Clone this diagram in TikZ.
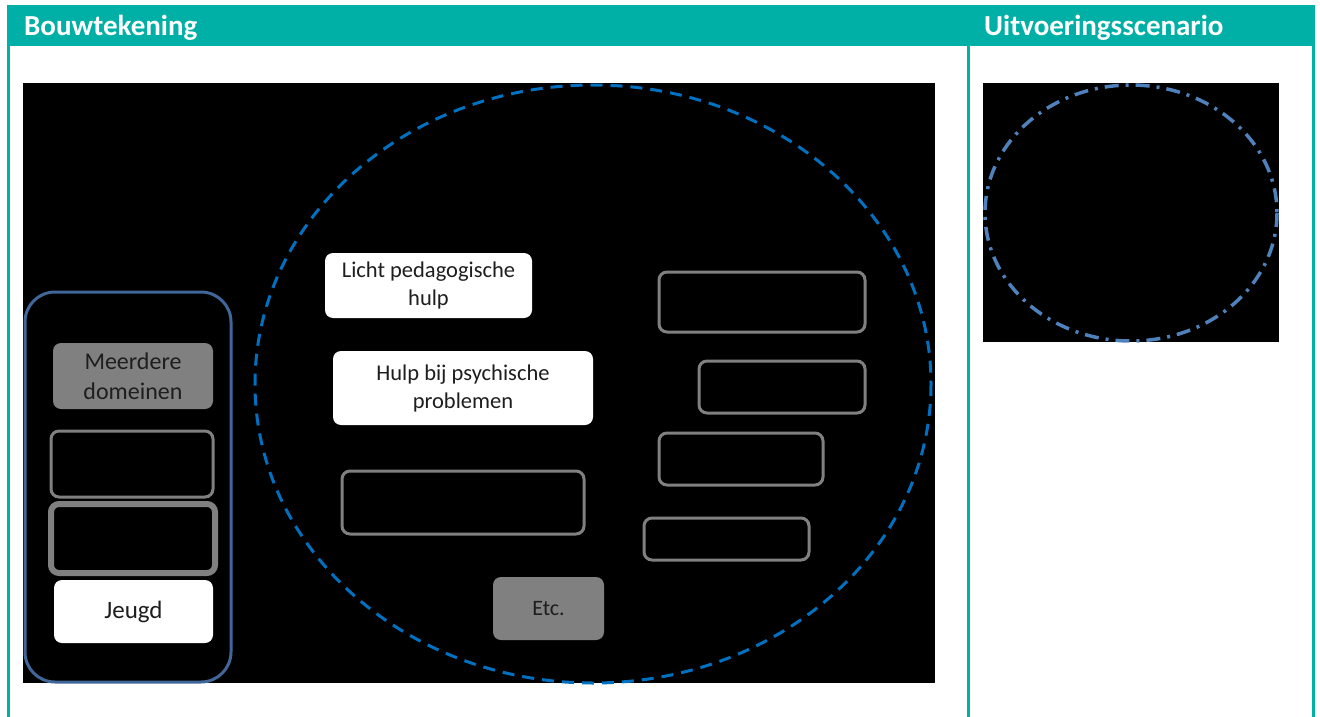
\documentclass[tikz,border=0pt]{standalone}
\usepackage{fontspec}
\setmainfont{Carlito}
\definecolor{teal}{HTML}{00AFA5}
\definecolor{dashblue}{HTML}{0070C0}
\definecolor{steel}{HTML}{4F81BD}
\definecolor{slate}{HTML}{41669A}
\definecolor{boxgray}{HTML}{808080}
\definecolor{txtdark}{HTML}{1E1E1E}
\tikzset{
  hdr/.style={anchor=base west, text=white, font=\fontsize{29}{35}\selectfont\bfseries, inner sep=0},
  emptybox/.style={draw=boxgray, line width=3pt, rounded corners=8pt, inner sep=0},
  whitebox/.style={fill=white, rounded corners=8pt, inner sep=0, text=txtdark, align=center},
  graybox/.style={fill=boxgray, rounded corners=8pt, inner sep=0, text=txtdark, align=center},
}
\begin{document}
\begin{tikzpicture}[x=1pt,y=-1pt]
\useasboundingbox (0,0) rectangle (1320,717);
\fill[white] (0,0) rectangle (1320,717);
% frame
\fill[teal] (7,5) rectangle (1315,46);
\fill[teal] (7,46) rectangle (10,717);
\fill[teal] (967,46) rectangle (970,717);
\fill[teal] (1312,46) rectangle (1315,717);
\node[hdr] (h1) at (24,36) {Bouwtekening};
\node[hdr] (h2) at (984,36) {Uitvoeringsscenario};
% black panels
\fill[black] (23,83) rectangle (935,683);
\fill[black] (983,83) rectangle (1279,342);
% right ellipse
\draw[steel, line width=3.5pt, dash pattern=on 14pt off 7pt on 3pt off 7pt] (1131,213) ellipse [x radius=146, y radius=128];
% big dashed ellipse
\draw[dashblue, line width=3pt, dash pattern=on 12pt off 8pt] (593,384) ellipse [x radius=338, y radius=299];
% left column
\draw[slate, line width=3pt, rounded corners=30pt] (25,292) rectangle (231,682);
\node[graybox, minimum width=160pt, minimum height=66pt, font=\fontsize{24}{30.5}\selectfont] (md) at (133,376) {Meerdere\\domeinen};
\node[emptybox, minimum width=162pt, minimum height=66pt] (e1) at (132,464) {};
\node[emptybox, line width=6pt, minimum width=164pt, minimum height=69pt] (e2) at (133,538.5) {};
\node[whitebox, minimum width=159pt, minimum height=63pt, font=\fontsize{25}{30}\selectfont] (jg) at (133.5,611.5) {Jeugd};
% middle
\node[whitebox, minimum width=207pt, minimum height=65pt, font=\fontsize{22.5}{28}\selectfont] (lp) at (428.5,285.5) {Licht pedagogische\\hulp};
\node[whitebox, minimum width=260pt, minimum height=74pt, font=\fontsize{22.5}{28}\selectfont] (hp) at (463,388) {Hulp bij psychische\\problemen};
\node[emptybox, minimum width=242pt, minimum height=63pt] (m1) at (463,502.5) {};
\node[graybox, minimum width=111pt, minimum height=63pt, font=\fontsize{22}{26}\selectfont] (etc) at (548.5,608.5) {Etc.};
% right boxes
\node[emptybox, minimum width=206pt, minimum height=60pt] (r1) at (762,302) {};
\node[emptybox, minimum width=166pt, minimum height=52pt] (r2) at (782,387) {};
\node[emptybox, minimum width=164pt, minimum height=52pt] (r3) at (741,459) {};
\node[emptybox, minimum width=165pt, minimum height=42pt] (r4) at (726.5,539) {};
\end{tikzpicture}
\end{document}
